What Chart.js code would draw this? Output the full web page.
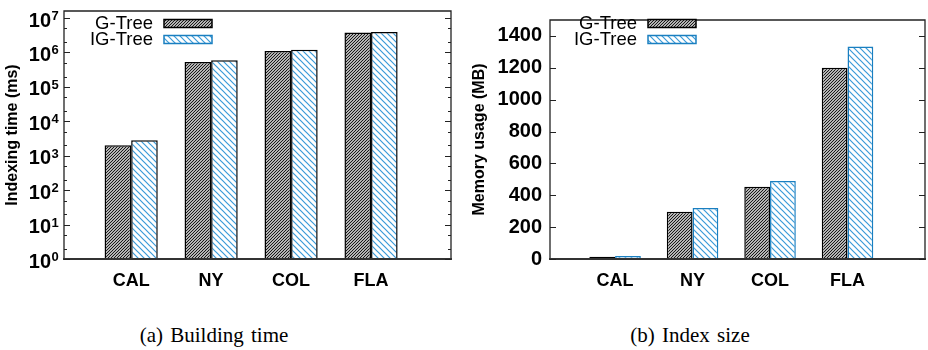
<!DOCTYPE html>
<html>
<head>
<meta charset="utf-8">
<script src="https://cdn.jsdelivr.net/npm/chart.js@4.4.1/dist/chart.umd.min.js"></script>
<style>
    body { margin: 0; width: 928px; height: 350px; background: #fff; position: relative; overflow: hidden; }
    canvas { position: absolute; top: 0; }
    #chart1 { left: 0; }
    #chart2 { left: 464px; }
    .caption { position: absolute; top: 325px; width: 260px; font-family: "Liberation Serif", "Times New Roman", serif; font-size: 21px; line-height: 20px; text-align: center; color: #000; word-spacing: 2px; }
</style>
</head>
<body>
<canvas id="chart1" width="464" height="300"></canvas>
<canvas id="chart2" width="464" height="300"></canvas>
<div class="caption" style="left: 84px;">(a) Building time</div>
<div class="caption" style="left: 560px;">(b) Index size</div>
<script>
"use strict";

// data
const regions = ["CAL", "NY", "COL", "FLA"];
const seriesNames = ["G-Tree", "IG-Tree"];
const buildTimeGTree = [2000, 530000, 1100000, 3800000];
const buildTimeIGTree = [2800, 590000, 1200000, 3900000];
const memoryGTree = [14, 297, 454, 1200];
const memoryIGTree = [19, 320, 489, 1334];

// tick values
const timeTicks = [1, 10, 100, 1000, 10000, 100000, 1000000, 10000000];
const timeMinorSteps = [2, 5];
const memoryTicks = [0, 200, 400, 600, 800, 1000, 1200, 1400];

const FONT = '"Liberation Sans", Arial, Helvetica, sans-serif';
const BLUE = "#1a7fc0";
const HATCH_BLUE = "#3a9ad8";

const makeHatch = (size, bg, fg, lineWidth, rising) => {
    // 斜線パターンを作る
    const c = document.createElement("canvas");
    c.width = size;
    c.height = size;
    const g = c.getContext("2d");
    g.fillStyle = bg;
    g.fillRect(0, 0, size, size);
    g.strokeStyle = fg;
    g.lineWidth = lineWidth;
    g.beginPath();
    if (rising) {
        g.moveTo(-1, size + 1);
        g.lineTo(size + 1, -1);
        g.moveTo(-1, 1);
        g.lineTo(1, -1);
        g.moveTo(size - 1, size + 1);
        g.lineTo(size + 1, size - 1);
    } else {
        g.moveTo(-1, -1);
        g.lineTo(size + 1, size + 1);
        g.moveTo(size - 1, -1);
        g.lineTo(size + 1, 1);
        g.moveTo(-1, size - 1);
        g.lineTo(1, size + 1);
    }
    g.stroke();
    return g.createPattern(c, "repeat");
};

const gTreeFill = makeHatch(3, "#ffffff", "#111111", 1.2, true);
const igTreeFill = makeHatch(6, "#ffffff", HATCH_BLUE, 1.2, false);

const toPoints = (values) => values.map((v, i) => ({ x: i, y: v }));

const makeDatasets = (gValues, igValues, igBorder) => [
    {
        label: seriesNames[0],
        data: toPoints(gValues),
        backgroundColor: gTreeFill,
        borderColor: "#000000",
        borderWidth: 1.5,
        categoryPercentage: 0.665,
        barPercentage: 1.0,
    },
    {
        label: seriesNames[1],
        data: toPoints(igValues),
        backgroundColor: igTreeFill,
        borderColor: igBorder,
        borderWidth: 1.5,
        categoryPercentage: 0.665,
        barPercentage: 1.0,
    },
];

const framePlugin = (cfg) => ({
    id: "frame",
    afterDatasetsDraw: (chart) => {
        const { ctx, chartArea: a } = chart;
        const yScale = chart.scales.y;
        ctx.save();

        // 枠線
        ctx.strokeStyle = "#222";
        ctx.lineWidth = 1.3;
        ctx.beginPath();
        ctx.moveTo(a.left, a.bottom);
        ctx.lineTo(a.left, a.top);
        ctx.lineTo(a.right, a.top);
        ctx.lineTo(a.right, a.bottom);
        ctx.stroke();
        ctx.strokeStyle = "#333";
        ctx.lineWidth = 2;
        ctx.beginPath();
        ctx.moveTo(a.left - 1, a.bottom);
        ctx.lineTo(a.right + 1, a.bottom);
        ctx.stroke();

        // 内向きの目盛り
        const tick = (v, len) => {
            const py = Math.round(yScale.getPixelForValue(v)) + 0.5;
            ctx.moveTo(a.left, py);
            ctx.lineTo(a.left + len, py);
            ctx.moveTo(a.right, py);
            ctx.lineTo(a.right - len, py);
        };
        ctx.strokeStyle = "#222";
        ctx.lineWidth = 1.2;
        ctx.beginPath();
        cfg.ticks.forEach((v) => tick(v, 6));
        cfg.minorTicks.forEach((v) => tick(v, 3));
        ctx.stroke();

        // 10のべき乗ラベル
        if (cfg.powerLabels) {
            ctx.fillStyle = "#000";
            ctx.textBaseline = "alphabetic";
            cfg.ticks.forEach((v) => {
                const py = yScale.getPixelForValue(v);
                ctx.font = `bold 20px ${FONT}`;
                ctx.textAlign = "right";
                ctx.fillText("10", a.left - 13, py + 8.5);
                ctx.font = `bold 13px ${FONT}`;
                ctx.textAlign = "left";
                ctx.fillText(String(Math.round(Math.log10(v))), a.left - 12.5, py + 2);
            });
        }

        // 凡例
        chart.data.datasets.forEach((ds, i) => {
            const top = 19.5 + i * 16;
            ctx.font = `18.5px ${FONT}`;
            ctx.fillStyle = "#000";
            ctx.textAlign = "right";
            ctx.textBaseline = "alphabetic";
            ctx.fillText(ds.label, cfg.legendX, top + 9);
            ctx.fillStyle = ds.backgroundColor;
            ctx.fillRect(cfg.legendX + 11, top, 48, 8);
            ctx.strokeStyle = cfg.legendBorders[i];
            ctx.lineWidth = 1.5;
            ctx.strokeRect(cfg.legendX + 11, top, 48, 8);
        });
        ctx.restore();
    },
});

const xAxis = {
    type: "linear",
    min: -0.84,
    max: 4.0,
    offset: false,
    grid: { display: false, drawTicks: false },
    border: { display: false },
    afterBuildTicks: (axis) => {
        axis.ticks = regions.map((r, i) => ({ value: i }));
    },
    afterFit: (axis) => {
        axis.height = 41;
    },
    ticks: {
        callback: (v) => regions[v] ?? "",
        font: { family: FONT, size: 18, weight: "bold" },
        color: "#000",
        padding: 11,
        maxRotation: 0,
        autoSkip: false,
    },
};

const drawChart = (canvasId, datasets, yAxis, padRight, plugin) => {
    const context = document.getElementById(canvasId).getContext("2d");
    return new Chart(context, {
        type: "bar",
        data: { datasets: datasets },
        options: {
            responsive: false,
            animation: false,
            layout: { padding: { left: 0, top: 11, right: padRight, bottom: 0 } },
            plugins: { legend: { display: false }, tooltip: { enabled: false } },
            scales: { x: xAxis, y: yAxis },
        },
        plugins: [plugin],
    });
};

// 左: 構築時間 (対数軸)
const timeMinorTicks = [];
timeTicks.slice(0, -1).forEach((t) => timeMinorSteps.forEach((s) => timeMinorTicks.push(t * s)));

drawChart(
    "chart1",
    makeDatasets(buildTimeGTree, buildTimeIGTree, "#000000"),
    {
        type: "logarithmic",
        min: 1,
        max: 1.6e7,
        grid: { display: false, drawTicks: false },
        border: { display: false },
        afterBuildTicks: (axis) => {
            axis.ticks = timeTicks.map((v) => ({ value: v }));
        },
        afterFit: (axis) => {
            axis.width = 64;
        },
        ticks: { display: false },
        title: {
            display: true,
            text: "Indexing time (ms)",
            font: { family: FONT, size: 16, weight: "bold" },
            color: "#000",
            padding: { top: 3, bottom: 0 },
        },
    },
    13,
    framePlugin({ ticks: timeTicks, minorTicks: timeMinorTicks, powerLabels: true, legendX: 153, legendBorders: ["#000000", BLUE] })
);

// 右: メモリ使用量
drawChart(
    "chart2",
    makeDatasets(memoryGTree, memoryIGTree, BLUE),
    {
        type: "linear",
        min: 0,
        max: 1500,
        grid: { display: false, drawTicks: false },
        border: { display: false },
        afterBuildTicks: (axis) => {
            axis.ticks = memoryTicks.map((v) => ({ value: v }));
        },
        afterFit: (axis) => {
            axis.width = 86;
        },
        ticks: {
            callback: (v) => String(v),
            font: { family: FONT, size: 20, weight: "bold" },
            color: "#000",
            padding: 8,
        },
        title: {
            display: true,
            text: "Memory usage (MB)",
            font: { family: FONT, size: 16, weight: "bold" },
            color: "#000",
            padding: { top: 6, bottom: 0 },
        },
    },
    3,
    framePlugin({ ticks: memoryTicks, minorTicks: [], powerLabels: false, legendX: 173, legendBorders: ["#000000", BLUE] })
);
</script>
</body>
</html>
